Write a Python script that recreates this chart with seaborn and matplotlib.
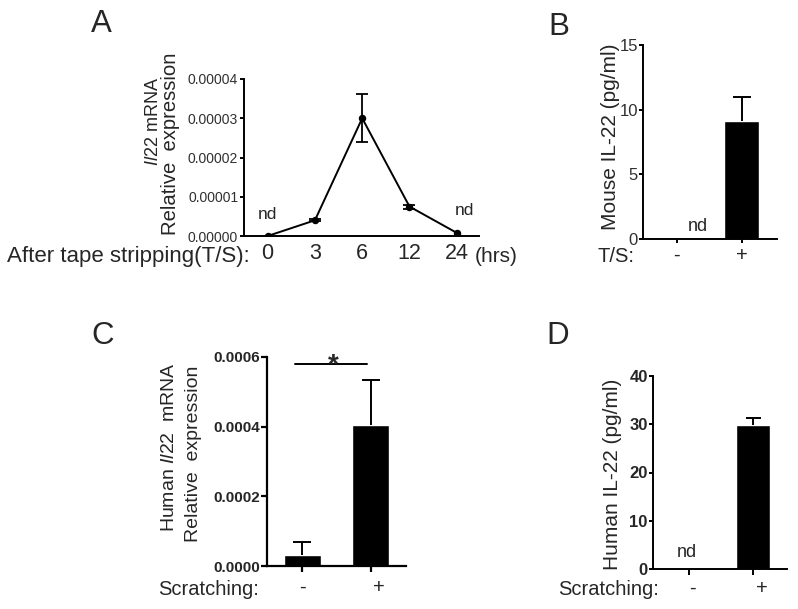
import numpy as np
import matplotlib
matplotlib.use("Agg")
import matplotlib.pyplot as plt
import matplotlib.transforms as mtransforms
from matplotlib.ticker import FormatStrFormatter
import seaborn as sns

# ---------------- data ----------------
time_labels = ["0", "3", "6", "12", "24"]
il22_mean = [0.0, 0.0000040, 0.0000300, 0.0000075, 0.0000008]
il22_err = [0.0, 0.0000003, 0.0000061, 0.0000005, 0.0000000]

ts_groups = ["-", "+"]
mouse_il22 = [0.0, 9.1]
mouse_il22_err = [0.0, 1.9]

scratch_groups = ["-", "+"]
human_mrna = [0.0000315, 0.000404]
human_mrna_err = [0.0000365, 0.000130]

human_il22 = [0.0, 29.9]
human_il22_err = [0.0, 1.3]

# ---------------- style ----------------
sns.set_style("ticks")
plt.rcParams["font.family"] = ["Liberation Sans", "DejaVu Sans"]
plt.rcParams["mathtext.fontset"] = "custom"
plt.rcParams["mathtext.it"] = "Liberation Sans:italic"
plt.rcParams["mathtext.rm"] = "Liberation Sans"

W, H = 798, 609
fig = plt.figure(figsize=(W / 100, H / 100), dpi=100)


def rect(l, r, t, b):
    return [l / W, 1 - b / H, (r - l) / W, (b - t) / H]


def fx(x):
    return x / W


def fy(y):
    return 1 - y / H


def style_axes(ax, lw=1.4):
    for s in ["top", "right"]:
        ax.spines[s].set_visible(False)
    for s in ["left", "bottom"]:
        ax.spines[s].set_linewidth(lw)
        ax.spines[s].set_color("black")
    ax.tick_params(axis="both", direction="out", length=3.2, width=lw, color="black")


def add_err(ax, vals, errs, capsize, lw=1.4):
    idx = [i for i, e in enumerate(errs) if e > 0]
    base = [vals[i] for i in idx]
    eb = ax.errorbar(idx, base,
                     yerr=[[0 for i in idx], [errs[i] for i in idx]],
                     fmt="none", ecolor="black", elinewidth=lw, capthick=lw,
                     capsize=capsize, zorder=5, clip_on=False)
    # hide the cap sitting on the bar top (only upper error bars are shown)
    for cl in eb[1]:
        if np.allclose(np.asarray(cl.get_ydata(), dtype=float), base):
            cl.set_visible(False)


gray = "#303030"

# ---------------- panel A ----------------
axA = fig.add_axes(rect(244, 479, 79, 236))
sns.pointplot(x=time_labels, y=il22_mean, color="black", errorbar=None,
              markers="o", markersize=4.3, linewidth=1.4, ax=axA)
idxA = [i for i, e in enumerate(il22_err) if e > 0]
axA.errorbar(idxA, [il22_mean[i] for i in idxA],
             yerr=[il22_err[i] for i in idxA], fmt="none", ecolor="black",
             elinewidth=1.3, capthick=1.3, capsize=4.3, zorder=5)
style_axes(axA)
axA.set_ylim(0, 0.00004)
axA.set_xlim(-0.5, 4.47)
axA.set_yticks([0, 0.00001, 0.00002, 0.00003, 0.00004])
axA.yaxis.set_major_formatter(FormatStrFormatter("%.5f"))
axA.tick_params(axis="y", labelsize=10, labelcolor=gray, pad=1)
axA.tick_params(axis="x", length=0, labelsize=15.5, pad=5)
axA.set_xlabel("")
axA.set_ylabel("")
axA.text(0, 0.0000054, "nd", ha="center", va="center", fontsize=12.5)
axA.text(4.16, 0.0000064, "nd", ha="center", va="center", fontsize=12.5)
fig.text(fx(7), fy(262), "After tape stripping(T/S):", fontsize=16, va="baseline", ha="left")
fig.text(fx(475), fy(262), "(hrs)", fontsize=15, va="baseline", ha="left")
fig.text(fx(154), fy(122), "$\\it{Il22}$ mRNA", rotation=90, ha="center", va="center", fontsize=13)
fig.text(fx(171), fy(144), "Relative  expression", rotation=90, ha="center", va="center", fontsize=14.6)
fig.text(fx(101), fy(24), "A", fontsize=22.5, ha="center", va="center")

# ---------------- panel B ----------------
axB = fig.add_axes(rect(643, 777, 45, 239))
sns.barplot(x=ts_groups, y=mouse_il22, color="black", saturation=1,
            errorbar=None, width=0.54, ax=axB)
add_err(axB, mouse_il22, mouse_il22_err, capsize=6.5)
style_axes(axB)
axB.set_ylim(0, 15)
axB.set_xlim(-0.52, 1.54)
axB.set_yticks([0, 5, 10, 15])
axB.tick_params(axis="y", labelsize=12, labelcolor=gray, pad=0.5)
axB.tick_params(axis="x", labelsize=14.5, pad=1.5)
axB.set_ylabel("")
axB.text(0.32, 0.93, "nd", ha="center", va="center", fontsize=13)
fig.text(fx(610), fy(137), "Mouse IL-22 (pg/ml)", rotation=90, ha="center", va="center", fontsize=15)
fig.text(fx(597), fy(262), "T/S:", fontsize=14.5, va="baseline", ha="left")
fig.text(fx(559), fy(27), "B", fontsize=22.5, ha="center", va="center")

# ---------------- panel C ----------------
axC = fig.add_axes(rect(267, 406, 357, 566))
sns.barplot(x=scratch_groups, y=human_mrna, color="black", saturation=1,
            errorbar=None, width=0.54, ax=axC)
add_err(axC, human_mrna, human_mrna_err, capsize=6.5)
style_axes(axC, lw=1.6)
axC.set_ylim(0, 0.0006)
axC.set_xlim(-0.51, 1.51)
axC.set_yticks([0, 0.0002, 0.0004, 0.0006])
axC.yaxis.set_major_formatter(FormatStrFormatter("%.4f"))
axC.tick_params(axis="y", labelsize=11, pad=1, length=4.3)
axC.tick_params(axis="x", labelsize=14.5, pad=4, length=4.3)
for lab in axC.get_yticklabels():
    lab.set_fontweight("bold")
labs = axC.get_xticklabels()
labs[1].set_transform(labs[1].get_transform() + mtransforms.ScaledTranslation(8 / 100, 0, fig.dpi_scale_trans))
axC.set_ylabel("")
# significance bar
axC.plot([-0.1, 0.94], [0.000581, 0.000581], color="black", lw=1.4, clip_on=False)
axC.text(0.45, 0.000556, "*", ha="center", va="baseline", fontsize=20, fontweight="bold", clip_on=False)
fig.text(fx(170), fy(447), "Human $\\it{Il22}$  mRNA", rotation=90, ha="center", va="center", fontsize=14)
fig.text(fx(193), fy(454), "Relative  expression", rotation=90, ha="center", va="center", fontsize=14)
fig.text(fx(158), fy(595), "Scratching:", fontsize=14.5, va="baseline", ha="left")
fig.text(fx(103), fy(336), "C", fontsize=22.5, ha="center", va="center")

# ---------------- panel D ----------------
axD = fig.add_axes(rect(653, 787, 376, 569))
sns.barplot(x=scratch_groups, y=human_il22, color="black", saturation=1,
            errorbar=None, width=0.54, ax=axD)
add_err(axD, human_il22, human_il22_err, capsize=5.4)
style_axes(axD)
axD.set_ylim(0, 40)
axD.set_xlim(-0.56, 1.53)
axD.set_yticks([0, 10, 20, 30, 40])
axD.tick_params(axis="y", labelsize=12, pad=0.5)
axD.tick_params(axis="x", labelsize=14.5, pad=3, length=4)
for lab in axD.get_yticklabels():
    lab.set_fontweight("bold")
labsD = axD.get_xticklabels()
labsD[0].set_transform(labsD[0].get_transform() + mtransforms.ScaledTranslation(4 / 100, 0, fig.dpi_scale_trans))
labsD[1].set_transform(labsD[1].get_transform() + mtransforms.ScaledTranslation(9 / 100, 0, fig.dpi_scale_trans))
axD.set_ylabel("")
axD.text(-0.03, 3.37, "nd", ha="center", va="center", fontsize=13)
fig.text(fx(613), fy(474), "Human IL-22 (pg/ml)", rotation=90, ha="center", va="center", fontsize=15)
fig.text(fx(558), fy(595), "Scratching:", fontsize=14.5, va="baseline", ha="left")
fig.text(fx(558), fy(336), "D", fontsize=22.5, ha="center", va="center")

fig.savefig("out.png", dpi=100)
